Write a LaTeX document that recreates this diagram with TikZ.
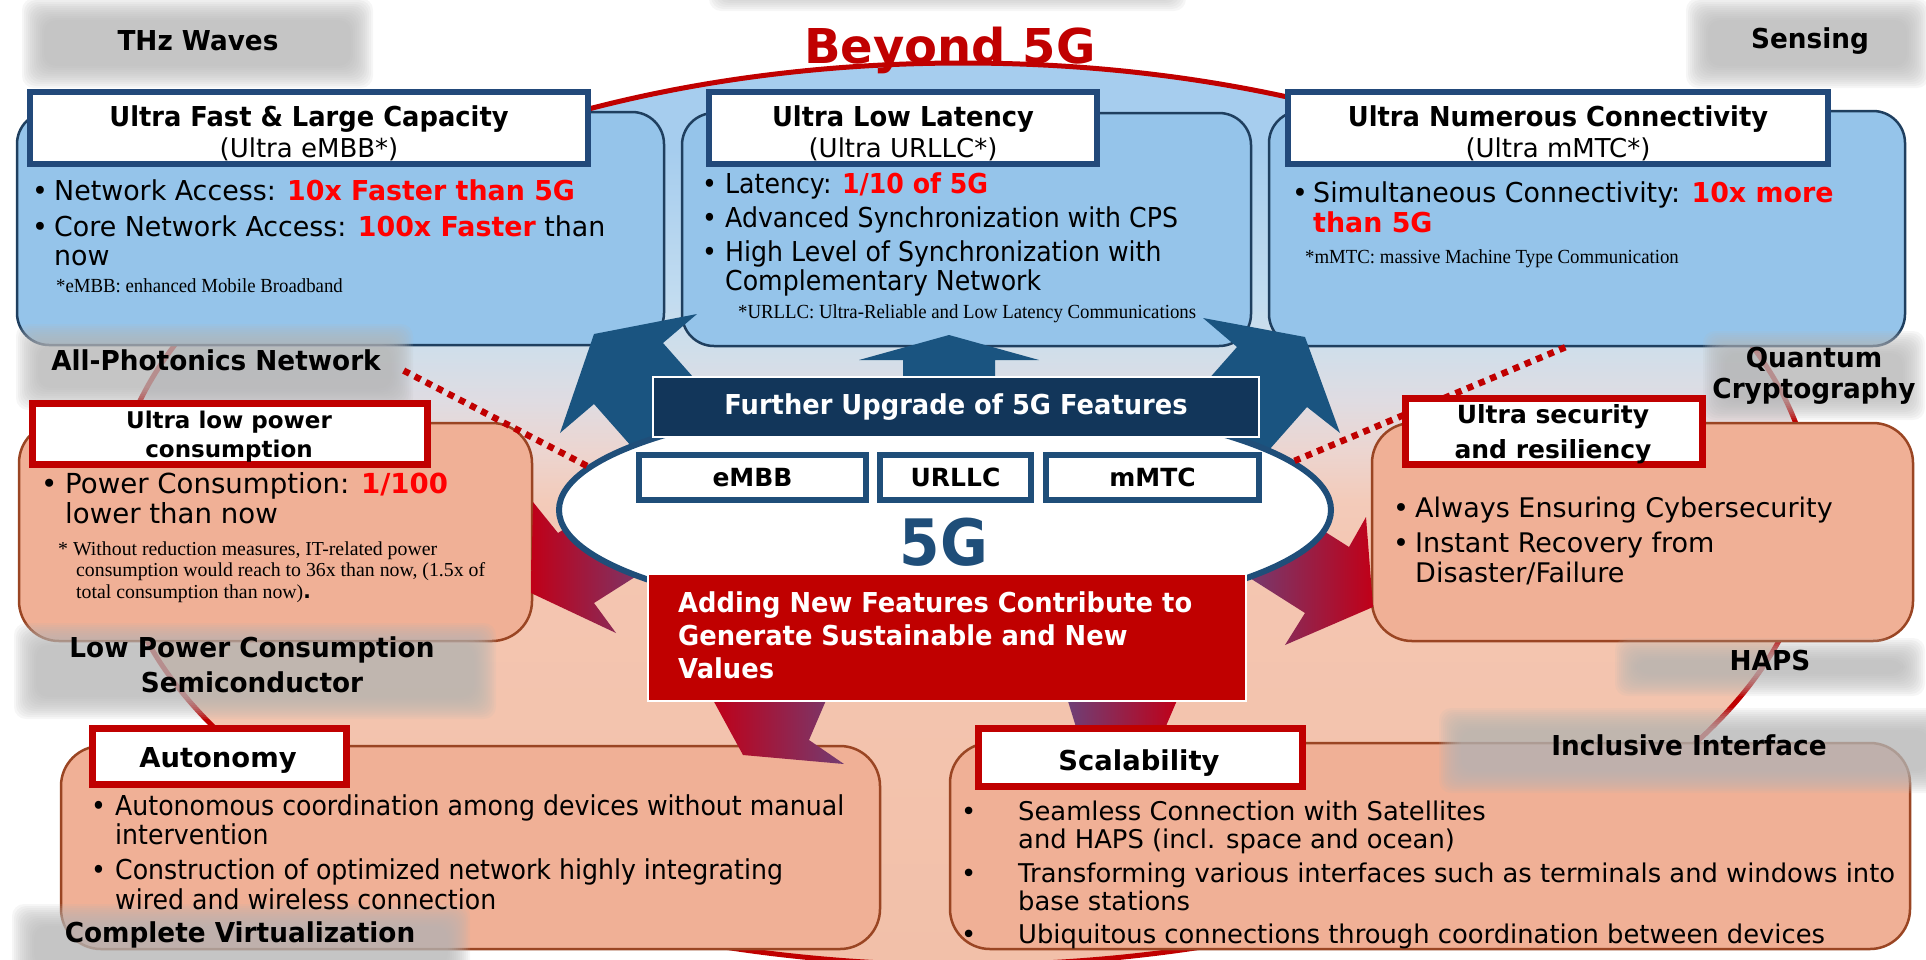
\documentclass[tikz,border=0pt]{standalone}
\usepackage{fontspec}
\setmainfont{DejaVu Sans}
\newfontfamily\ffA[FakeStretch=0.98]{DejaVu Sans}
\newfontfamily\ffB[FakeStretch=0.92]{DejaVu Sans}
\newfontfamily\ffT[FakeStretch=0.94]{DejaVu Sans}
\newfontfamily\ffL[FakeStretch=0.96]{DejaVu Sans}
\newfontfamily\ffG[FakeStretch=0.91]{DejaVu Sans}
\newfontfamily\ffN[FakeStretch=0.94]{Liberation Serif}
\newfontfamily\ffM{Liberation Serif}
\usetikzlibrary{shapes.geometric,calc}

% palette
\definecolor{bfill}{HTML}{95C4EA}
\definecolor{bbord}{HTML}{1F3F5F}
\definecolor{tbord}{HTML}{22497A}
\definecolor{ofill}{HTML}{F0B096}
\definecolor{obord}{HTML}{9A4523}
\definecolor{rtbord}{HTML}{C00000}
\definecolor{navy}{HTML}{12365A}
\definecolor{c5g}{HTML}{1F4E79}
\definecolor{redbox}{HTML}{C00000}
\definecolor{hired}{HTML}{FF0000}
\definecolor{bigred}{HTML}{C00000}
\definecolor{barrow}{HTML}{1A5480}
\definecolor{redA}{HTML}{C00018}
\definecolor{purpA}{HTML}{5F4B88}
\definecolor{hazec}{HTML}{B6B6B6}
\definecolor{bgb1}{HTML}{A6CDEE}
\definecolor{bgb2}{HTML}{C2DCF0}
\definecolor{bgb3}{HTML}{D0DEEA}
\definecolor{bgm1}{HTML}{DFDCE2}
\definecolor{bgm2}{HTML}{ECD5D0}
\definecolor{bgp1}{HTML}{F3CBBA}
\definecolor{bgp2}{HTML}{F4C6B1}
\definecolor{bgp3}{HTML}{F2C0A9}

% backdrop gradient: blue at the top, salmon from the middle down
\pgfdeclareverticalshading{bgsh}{100bp}{color(0bp)=(bgp3); color(25bp)=(bgp3); color(47.4bp)=(bgp2); color(50.8bp)=(bgp1); color(53.5bp)=(bgm2); color(56.3bp)=(bgm1); color(59.1bp)=(bgb3); color(61.9bp)=(bgb2); color(70.2bp)=(bgb1); color(75bp)=(bgb1); color(100bp)=(bgb1)}

\newcommand\fsz[2]{\fontsize{#1}{#2}\selectfont}
\newcommand\bu[1]{\makebox[#1][l]{•}}
\newcommand\hl[1]{\textcolor{hired}{\bfseries #1}}
% soft grey tag behind a technology label
\newcommand\haze[4]{\foreach \k in {0,...,11}{\fill[hazec,fill opacity=0.12,rounded corners=12pt] ({#1-11+2*\k},{#2-9+2*\k}) rectangle ({#3+11-2*\k},{#4+13-2*\k});}}

\begin{document}
\begin{tikzpicture}[x=1pt,y=-1pt,
  bluebox/.style={draw=bbord,line width=2.5pt,fill=bfill,rounded corners=32pt,inner sep=0pt},
  titleb/.style={draw=tbord,line width=6pt,fill=white,inner sep=0pt},
  orbox/.style={draw=obord,line width=2.5pt,fill=ofill,rounded corners=40pt,inner sep=0pt},
  titler/.style={draw=rtbord,line width=7pt,fill=white,inner sep=0pt},
  txt/.style={inner sep=0pt,anchor=base west},
  ctr/.style={inner sep=0pt,anchor=base},
  lab/.style={inner sep=0pt,anchor=base,font=\ffL\bfseries\fsz{27.4}{33}},
  dotline/.style={draw=bigred,line width=6.5pt,dash pattern=on 6.5pt off 6pt},
  smallbox/.style={draw=c5g,line width=6pt,fill=white,inner sep=0pt,minimum height=45pt,font=\bfseries\fsz{25}{30}},
]
\useasboundingbox (0,0) rectangle (1926,959);
\clip (0,0) rectangle (1926,959);

% ---- Beyond 5G envelope ----
\shade[shading=bgsh] (963,514) ellipse [x radius=850,y radius=451];
\draw[bigred,line width=5pt] (963,514) ellipse [x radius=850,y radius=451];
\haze{720}{-70}{1175}{-2}

% ---- feature panels ----
\node[bluebox,minimum width=647pt,minimum height=233pt] (b1) at (340.5,228.5) {};
\node[bluebox,minimum width=569pt,minimum height=233pt] (b2) at (966.5,229.5) {};
\node[bluebox,minimum width=636pt,minimum height=235pt] (b3) at (1587,228.5) {};
\node[orbox,minimum width=513pt,minimum height=218pt] (ol) at (275.5,532) {};
\node[orbox,minimum width=541pt,minimum height=218pt] (or) at (1642.5,532) {};
\node[orbox,minimum width=819pt,minimum height=203pt] (oa) at (470.5,847.5) {};
\node[orbox,minimum width=960pt,minimum height=206pt] (os) at (1430,846) {};

% ---- technology tags ----
\haze{33}{7}{362}{75}
\node[lab] (thz) at (198,50) {THz Waves};
\haze{1697}{7}{1918}{75}
\node[lab] (sens) at (1810,48) {Sensing};
\haze{27}{333}{402}{397}
\node[lab,minimum width=375pt] (apn) at (216,370) {All-Photonics Network};
\haze{1714}{340}{1914}{407}
\node[lab] (qc) at (1814,367) {\fsz{27.4}{31}\begin{tabular}[t]{@{}c@{}}Quantum\\Cryptography\end{tabular}};
\haze{25}{632}{485}{706}
\node[lab] (lpc) at (252,657) {\fsz{27.4}{35}\begin{tabular}[t]{@{}c@{}}Low Power Consumption\\Semiconductor\end{tabular}};
\haze{1626}{647}{1914}{683}
\node[lab] (haps) at (1770,670) {HAPS};
\haze{1450}{717}{1940}{780}
\node[lab] (incl) at (1689,755) {Inclusive Interface};
\haze{23}{913}{459}{975}
\node[lab] (cv) at (240,942) {Complete Virtualization};

% ---- upgrade arrows (blue) ----
\fill[barrow] (594,334) -- (697,314) -- (663,343) -- (769,463) -- (700,524) -- (594,404) -- (560,433) -- cycle;
\fill[barrow] (949,335) -- (1039,360) -- (995,360) -- (995,400) -- (903,400) -- (903,360) -- (859,360) -- cycle;
\fill[barrow] (1305,337) -- (1203,318) -- (1237,347) -- (1131,467) -- (1201,527) -- (1307,407) -- (1340,433) -- cycle;

% ---- new-feature arrows (red) ----
\shade[left color=redA,right color=purpA] (531,593) -- (616,633) -- (594,603) -- (687,544) -- (651,474) -- (558,533) -- (533,502) -- cycle;
\shade[left color=purpA,right color=redA] (1373,607) -- (1366,517) -- (1349,547) -- (1256,488) -- (1212,554) -- (1305,613) -- (1285,645) -- cycle;
\shade[left color=redA,right color=purpA!80!redA] (712,698) -- (827,698) -- (809,740) -- (844,764) -- (743,755) -- cycle;
\shade[left color=purpA!85!redA,right color=redA] (1067,698) -- (1178,698) -- (1160,740) -- (1080,740) -- cycle;

% ---- 5G core ----
\node[draw=c5g,line width=6pt,fill=white,ellipse,inner sep=0pt,minimum width=772pt,minimum height=218pt] (g5) at (945,510) {};
\node[draw=white,line width=2pt,fill=navy,minimum width=606pt,minimum height=60pt,inner sep=0pt,text=white,font=\ffT\bfseries\fsz{27.4}{33}] (up) at (956,407) {Further Upgrade of 5G Features};
\node[smallbox,minimum width=227pt] (embb) at (752.5,477.5) {eMBB};
\node[smallbox,minimum width=151pt] (urllc) at (955.5,477.5) {URLLC};
\node[smallbox,minimum width=213pt] (mmtc) at (1152.5,477.5) {mMTC};
\node[ctr,text=c5g,font=\ffG\bfseries\fsz{64}{70}] (g5t) at (944,565) {5G};

% ---- dotted links ----
\draw[dotline] (apn.south east) -- (g5.173);
\draw[dotline] ($(b3.south west)!0.466!(b3.south east)$) -- (g5.8);

% ---- blue panel titles and text ----
\node[titleb,minimum width=558pt,minimum height=72pt] (t1) at (309,128) {};
\node[ctr,font=\ffT\bfseries\fsz{27.4}{31}] (t1a) at (309,126) {Ultra Fast \& Large Capacity};
\node[ctr,font=\fsz{26}{31}] (t1b) at (309,157) {(Ultra eMBB*)};
\node[titleb,minimum width=388pt,minimum height=72pt] (t2) at (903,128) {};
\node[ctr,font=\ffT\bfseries\fsz{27.4}{31}] (t2a) at (903,126) {Ultra Low Latency};
\node[ctr,font=\fsz{26}{31}] (t2b) at (903,157) {(Ultra URLLC*)};
\node[titleb,minimum width=540pt,minimum height=72pt] (t3) at (1558,128) {};
\node[ctr,font=\ffT\bfseries\fsz{27.4}{31}] (t3a) at (1558,126) {Ultra Numerous Connectivity};
\node[ctr,font=\fsz{26}{31}] (t3b) at (1558,157) {(Ultra mMTC*)};

\node[txt,font=\ffA\fsz{27.4}{29}] (c1) at (32,200) {\begin{tabular}[t]{@{}l@{}}\bu{22pt}Network Access: \hl{10x Faster than 5G}\\[7pt]\bu{22pt}Core Network Access: \hl{100x Faster} than\\\hspace*{22pt}now\end{tabular}};
\node[txt,font=\ffN\fsz{20}{24}] (f1) at (56,292) {*eMBB: enhanced Mobile Broadband};
\node[txt,font=\ffB\fsz{27.4}{28}] (c2) at (702,193) {\begin{tabular}[t]{@{}l@{}}\bu{23pt}Latency: \hl{1/10 of 5G}\\[5pt]\bu{23pt}Advanced Synchronization with CPS\\[5pt]\bu{23pt}High Level of Synchronization with\\\hspace*{23pt}Complementary Network\end{tabular}};
\node[txt,font=\ffN\fsz{20}{24}] (f2) at (738,318) {*URLLC: Ultra-Reliable and Low Latency Communications};
\node[txt,font=\ffA\fsz{27.4}{30}] (c3) at (1292,202) {\begin{tabular}[t]{@{}l@{}}\bu{21pt}Simultaneous Connectivity: \hl{10x more}\\\hspace*{21pt}\hl{than 5G}\end{tabular}};
\node[txt,font=\ffN\fsz{20}{24}] (f3) at (1305,263) {*mMTC: massive Machine Type Communication};

% ---- salmon panel titles and text ----
\node[titler,minimum width=395pt,minimum height=61pt] (tl) at (230,434) {};
\node[ctr,font=\bfseries\fsz{23}{28}] (tla) at (229,428) {Ultra low power};
\node[ctr,font=\bfseries\fsz{23}{28}] (tlb) at (229,457) {consumption};
\node[titler,minimum width=297pt,minimum height=66pt] (tr) at (1554,431.5) {};
\node[ctr,font=\bfseries\fsz{25}{30}] (tra) at (1553,423) {Ultra security};
\node[ctr,font=\bfseries\fsz{25}{30}] (trb) at (1553,458) {and resiliency};
\node[titler,minimum width=254pt,minimum height=56pt] (ta) at (219.5,756.5) {};
\node[ctr,font=\bfseries\fsz{27.4}{33}] (tax) at (218,767) {Autonomy};
\node[titler,minimum width=324pt,minimum height=58pt] (ts) at (1140.5,757.5) {};
\node[ctr,font=\bfseries\fsz{27.4}{33}] (tsx) at (1139,770) {Scalability};

\node[txt,font=\fsz{27.6}{30}] (cl) at (41,493) {\begin{tabular}[t]{@{}l@{}}\bu{24pt}Power Consumption: \hl{1/100}\\\hspace*{24pt}lower than now\end{tabular}};
\node[txt,font=\ffM\fsz{19.8}{21.5}] (fl) at (58,555) {\begin{tabular}[t]{@{}l@{}}* Without reduction measures, IT-related power\\\hspace*{18pt}consumption would reach to 36x than now, (1.5x of\\\hspace*{18pt}total consumption than now){\normalfont\bfseries .}\end{tabular}};
\node[txt,font=\fsz{27}{30}] (cr) at (1393,517) {\begin{tabular}[t]{@{}l@{}}\bu{22pt}Always Ensuring Cybersecurity\\[5pt]\bu{22pt}Instant Recovery from\\\hspace*{22pt}Disaster/Failure\end{tabular}};
\node[txt,font=\ffB\fsz{27.4}{28.5}] (ca) at (91,815) {\begin{tabular}[t]{@{}l@{}}\bu{24pt}Autonomous coordination among devices without manual\\\hspace*{24pt}intervention\\[6pt]\bu{24pt}Construction of optimized network highly integrating\\\hspace*{24pt}wired and wireless connection\end{tabular}};
\node[txt,font=\fsz{25.8}{28}] (cs) at (961,820) {\begin{tabular}[t]{@{}l@{}}\bu{57pt}Seamless Connection with Satellites\\\hspace*{57pt}and HAPS (incl. space and ocean)\\[6pt]\bu{57pt}Transforming various interfaces such as terminals and windows into\\\hspace*{57pt}base stations\\[5pt]\bu{57pt}Ubiquitous connections through coordination between devices\end{tabular}};

% ---- new value box ----
\node[draw=white,line width=2pt,fill=redbox,minimum width=598pt,minimum height=127pt,inner sep=0pt] (rb) at (947,637.5) {};
\node[txt,text=white,font=\ffT\bfseries\fsz{27.4}{33}] (rbx) at (678,612) {\begin{tabular}[t]{@{}l@{}}Adding New Features Contribute to\\Generate Sustainable and New\\Values\end{tabular}};

% ---- heading ----
\node[ctr,text=bigred,font=\bfseries\fsz{48}{56}] (b5) at (950,63) {Beyond 5G};
\end{tikzpicture}
\end{document}
